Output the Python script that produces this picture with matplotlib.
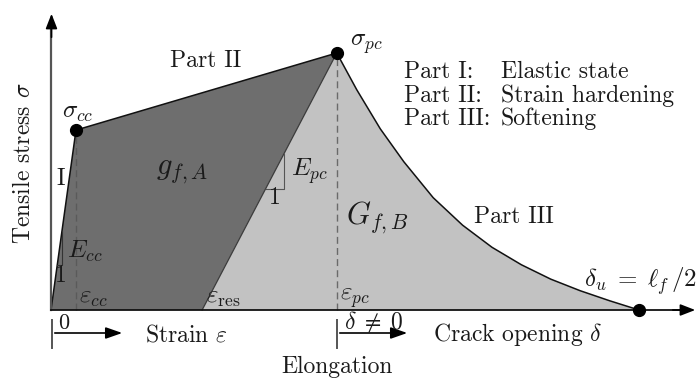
import matplotlib
matplotlib.use("Agg")
import matplotlib.pyplot as plt
import numpy as np

# Model tensile law (normalised: sigma_pc = 1, delta_u = 1)
eps_cc, sigma_cc = 0.0425, 0.70      # end of elastic state
eps_pc, sigma_pc = 0.486, 1.00       # peak (post-cracking strength)
eps_res = 0.257                      # residual strain after unloading
delta_u = 1.00                       # ultimate crack opening

# Softening branch (Part III)
soft_x = [0.486, 0.52, 0.56, 0.60, 0.65, 0.70, 0.75, 0.80, 0.85, 0.90, 0.95, 1.00]
soft_y = [1.00, 0.857, 0.705, 0.577, 0.437, 0.330, 0.244, 0.176, 0.120, 0.075, 0.036, 0.0]

legend_parts = ["Part I:", "Part II:", "Part III:"]
legend_desc = ["Elastic state", "Strain hardening", "Softening"]

plt.rcParams["font.family"] = ["cmr10", "DejaVu Serif"]
plt.rcParams["mathtext.fontset"] = "cm"
plt.rcParams["axes.unicode_minus"] = False

W, H = 698, 383
fig = plt.figure(figsize=(W / 100, H / 100), dpi=100)
ax = fig.add_axes([0, 0, 1, 1])

# canvas layout: origin at (51, 310) px, 588 px per unit in x, 257 px per unit in y
X0, Y0, SX, SY = 51, 310, 588, 257
ax.set_xlim(-X0 / SX, (W - X0) / SX)
ax.set_ylim((Y0 - H) / SY, Y0 / SY)
ax.axis("off")


def P(px, py):
    return ((px - X0) / SX, (Y0 - py) / SY)


DARK = "#6e6e6e"
LIGHT = "#c2c2c2"
TXT = "#1a1a1a"
FS = 17
FM = 18

# filled regions
ax.fill([0, eps_cc, eps_pc, eps_res], [0, sigma_cc, sigma_pc, 0],
        color=DARK, lw=0, zorder=1)
ax.fill([eps_res] + soft_x, [0] + soft_y, color=LIGHT, lw=0, zorder=1)

# outlines
ax.plot([0, eps_cc, eps_pc], [0, sigma_cc, sigma_pc], color="#111111", lw=1.1,
        zorder=3, solid_joinstyle="round")
ax.plot([eps_pc, eps_res], [sigma_pc, 0], color="#3a3a3a", lw=0.9, zorder=3)
ax.plot(soft_x, soft_y, color="#111111", lw=1.1, zorder=3, solid_joinstyle="round")

# dashed guide lines
ax.plot([eps_cc, eps_cc], [0, sigma_cc], color="#5a5a5a", lw=1.0, ls=(0, (5, 3)), zorder=2)
ax.plot([eps_pc, eps_pc], [0, sigma_pc], color="#6a6a6a", lw=1.0, ls=(0, (5, 3)), zorder=2)

# slope triangles
k_cc = sigma_cc / eps_cc
yt = P(0, 265)[1]
xa = yt / k_cc
xb = P(62, 0)[0]
ax.plot([xa, xb, xb], [yt, yt, k_cc * xb], color="#333333", lw=0.8, zorder=3)

k_pc = sigma_pc / (eps_pc - eps_res)
yt2 = P(0, 189)[1]
xa2 = eps_res + yt2 / k_pc
xb2 = P(284, 0)[0]
ax.plot([xa2, xb2, xb2], [yt2, yt2, k_pc * (xb2 - eps_res)], color="#555555", lw=0.8, zorder=3)

# axes with arrows
ax.plot([0, 0], [0, P(0, 22)[1]], color="#555555", lw=1.6, zorder=4)
ax.annotate("", xy=P(51.5, 11), xytext=P(51.5, 40),
            arrowprops=dict(arrowstyle="-|>,head_length=0.9,head_width=0.35",
                            color="black", lw=1.2), zorder=5)
ax.plot([0, P(685, 0)[0]], [0, 0], color="#111111", lw=1.3, zorder=4)
ax.annotate("", xy=P(698, 310), xytext=P(670, 310),
            arrowprops=dict(arrowstyle="-|>,head_length=0.9,head_width=0.35",
                            color="black", lw=1.2), zorder=5)

# key points
ax.plot([eps_cc, eps_pc, delta_u], [sigma_cc, sigma_pc, 0], "o", color="black",
        ms=8.5, zorder=6)

# elongation arrows below the axis
for x_start, x_tip in [(52, 125), (337, 410)]:
    ax.plot(*zip(P(x_start, 320), P(x_start, 348)), color="#555555", lw=1.4)
    ax.annotate("", xy=P(x_tip, 333), xytext=P(x_start, 333),
                arrowprops=dict(arrowstyle="-|>,head_length=1.0,head_width=0.35",
                                color="black", lw=1.2))

# labels
def label(px, py, s, ha="center", va="center", **kw):
    kw.setdefault("fontsize", FS)
    ax.text(*P(px, py), s, ha=ha, va=va, color=TXT, **kw)


label(24, 163, r"Tensile stress $\sigma$", rotation=90)
label(206, 61, "Part II")
label(78, 113, r"$\sigma_{cc}$", fontsize=FM)
label(366, 44, r"$\sigma_{pc}$", fontsize=FM)
for i, (p, d) in enumerate(zip(legend_parts, legend_desc)):
    label(404, 72 + 23.5 * i, p, ha="left")
    label(501, 72 + 23.5 * i, d, ha="left")
label(182, 172, r"$g_{f,A}$", fontsize=FS + 5)
label(61, 179, "I")
label(85, 251, r"$E_{cc}$", fontsize=FM)
label(61, 276, "1")
label(309, 171, r"$E_{pc}$", fontsize=FM)
label(275, 198, "1")
label(377, 218, r"$G_{f,B}$", fontsize=FS + 5)
label(514, 217, "Part III")
label(697, 281, r"$\delta_u \;=\; \ell_f\,/2$", ha="right", fontsize=FM)
label(79, 298, r"$\varepsilon_{cc}$", ha="left", fontsize=FM)
label(206, 298, r"$\varepsilon_{\rm res}$", ha="left", fontsize=FM)
label(340, 298, r"$\varepsilon_{pc}$", ha="left", fontsize=FM)
label(58, 329, "0", ha="left", va="baseline", fontsize=FS - 1)
label(186, 335, r"Strain $\varepsilon$")
label(344, 329, r"$\delta \;\neq\; 0$", ha="left", va="baseline")
label(518, 335, r"Crack opening $\delta$")
label(337, 367, "Elongation")

fig.savefig("out.png", dpi=100)
